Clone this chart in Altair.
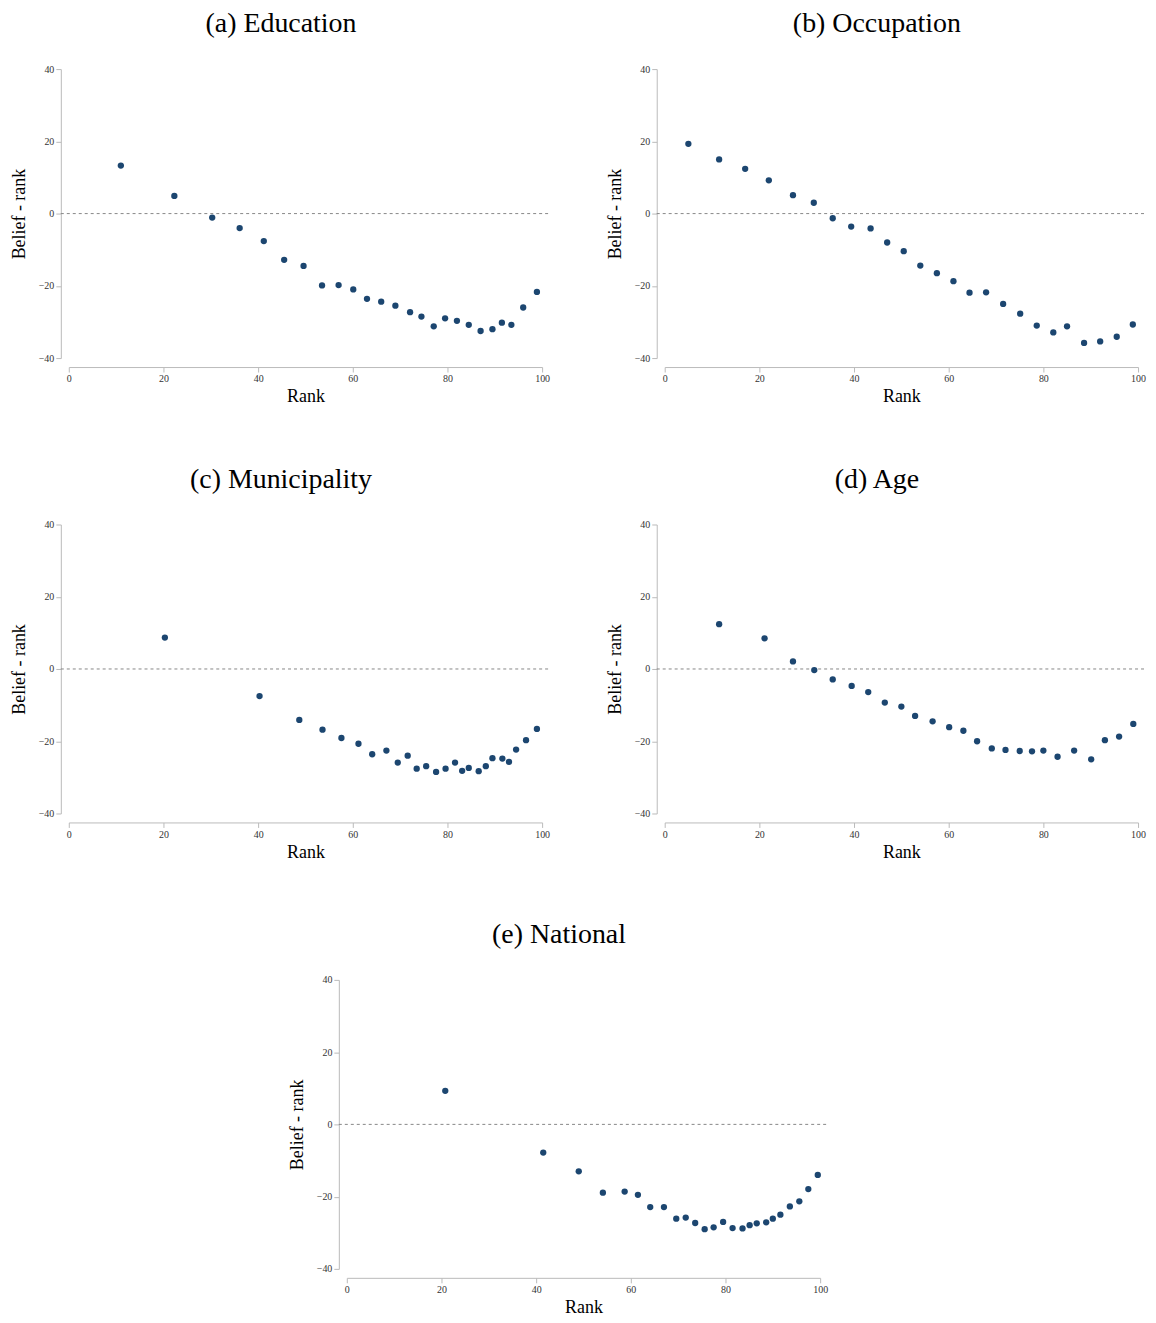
import altair as alt
import pandas as pd

# ---------------- data ----------------
edu_rank = [11.0, 22.3, 30.3, 36.1, 41.2, 45.5, 49.6, 53.5, 57.0, 60.1, 63.0, 66.0, 69.0,
            72.1, 74.5, 77.1, 79.5, 82.0, 84.5, 87.0, 89.5, 91.5, 93.5, 96.0, 98.9]
edu_val = [13.3, 4.9, -1.1, -4.0, -7.6, -12.8, -14.5, -19.9, -19.8, -21.0, -23.6, -24.4, -25.5,
           -27.3, -28.5, -31.2, -29.0, -29.7, -30.8, -32.5, -32.0, -30.2, -30.8, -26.0, -21.7]

occ_rank = [5.0, 11.5, 17.0, 22.0, 27.1, 31.5, 35.5, 39.4, 43.5, 47.0, 50.5, 54.0, 57.5,
            61.0, 64.4, 67.9, 71.5, 75.1, 78.6, 82.1, 85.0, 88.6, 92.0, 95.5, 98.9]
occ_val = [19.3, 15.0, 12.4, 9.2, 5.1, 3.0, -1.3, -3.6, -4.1, -8.0, -10.4, -14.4, -16.5,
           -18.7, -21.9, -21.8, -25.0, -27.7, -31.0, -32.9, -31.2, -35.8, -35.4, -34.1, -30.7]

mun_rank = [20.3, 40.3, 48.7, 53.6, 57.6, 61.2, 64.1, 67.1, 69.5, 71.6, 73.5, 75.5, 77.6,
            79.6, 81.6, 83.1, 84.5, 86.6, 88.1, 89.5, 91.6, 93.0, 94.5, 96.6, 98.9]
mun_val = [8.7, -7.5, -14.1, -16.8, -19.1, -20.7, -23.6, -22.6, -25.9, -24.0, -27.6, -26.9, -28.5,
           -27.6, -25.9, -28.2, -27.4, -28.3, -26.9, -24.7, -24.8, -25.7, -22.3, -19.7, -16.6]

age_rank = [11.5, 21.1, 27.1, 31.6, 35.5, 39.5, 43.0, 46.5, 50.0, 52.9, 56.6, 60.1, 63.1,
            66.0, 69.1, 72.0, 75.0, 77.6, 80.0, 83.0, 86.5, 90.1, 93.0, 96.0, 99.0]
age_val = [12.4, 8.5, 2.1, -0.3, -2.9, -4.7, -6.4, -9.3, -10.4, -13.0, -14.5, -16.1, -17.1,
           -20.0, -22.0, -22.4, -22.7, -22.8, -22.6, -24.3, -22.6, -25.0, -19.7, -18.7, -15.2]

nat_rank = [20.8, 41.5, 49.0, 54.1, 58.7, 61.5, 64.1, 67.0, 69.6, 71.6, 73.6, 75.6, 77.5,
            79.5, 81.5, 83.6, 85.1, 86.6, 88.6, 90.0, 91.6, 93.6, 95.6, 97.5, 99.5]
nat_val = [9.3, -7.8, -13.0, -18.9, -18.6, -19.5, -22.9, -22.9, -26.1, -25.8, -27.3, -29.0, -28.5,
           -27.0, -28.7, -28.8, -27.9, -27.4, -27.1, -26.1, -25.0, -22.7, -21.3, -17.9, -14.0]

titles = ["(a) Education", "(b) Occupation", "(c) Municipality", "(d) Age", "(e) National"]
x_ticks = [0, 20, 40, 60, 80, 100]
y_ticks = [-40, -20, 0, 20, 40]

# ---------------- style ----------------
FONT = "Liberation Serif"
W, H = 475, 290
POINT_COLOR = "#1c4670"


def panel(title, ranks, vals):
    df = pd.DataFrame({"rank": ranks, "val": vals})
    base = alt.Chart(df)
    x = alt.X("rank:Q", title="Rank",
              scale=alt.Scale(domain=[0, 100], nice=False, zero=False),
              axis=alt.Axis(values=x_ticks, offset=9, titlePadding=4, labelFlush=False))
    y = alt.Y("val:Q", title="Belief - rank",
              scale=alt.Scale(domain=[-40, 40], nice=False),
              axis=alt.Axis(values=y_ticks, offset=8, titlePadding=10, labelFlush=False))
    pts = base.mark_point(filled=True, size=40, opacity=1, color=POINT_COLOR).encode(x=x, y=y)
    zero = alt.Chart(pd.DataFrame({"z": [0]})).mark_rule(
        color="#888888", strokeDash=[3, 3], strokeWidth=1
    ).encode(y=alt.Y("z:Q"), x=alt.value(-8), x2=alt.value(W + 9))
    return alt.layer(zero, pts).properties(
        width=W, height=H,
        title=alt.TitleParams(title, anchor="middle", frame="bounds", font=FONT,
                              fontSize=28, fontWeight="normal", color="#000000",
                              offset=26),
    )


a = panel(titles[0], edu_rank, edu_val)
b = panel(titles[1], occ_rank, occ_val)
c = panel(titles[2], mun_rank, mun_val)
d = panel(titles[3], age_rank, age_val)
e = panel(titles[4], nat_rank, nat_val)

spacer = alt.Chart(pd.DataFrame({"v": [0]})).mark_point(opacity=0).encode(
    x=alt.value(0), y=alt.value(0)
).properties(width=220, height=10)

row1 = alt.hconcat(a, b, spacing=54)
row2 = alt.hconcat(c, d, spacing=54)
row3 = alt.hconcat(spacer, e, spacing=0)

chart = alt.vconcat(row1, row2, row3, spacing=60).properties(
    padding={"left": 2, "top": 0, "right": 0, "bottom": 0}
).configure_view(stroke=None).configure_axis(
    grid=False,
    domainColor="#bbbbbb",
    tickColor="#bbbbbb",
    tickSize=5,
    labelFont=FONT,
    labelFontSize=10,
    labelColor="#333333",
    titleFont=FONT,
    titleFontSize=18,
    titleFontWeight="normal",
    titleColor="#000000",
)

chart.save("out.html", embed_options={"renderer": "svg", "actions": False})
